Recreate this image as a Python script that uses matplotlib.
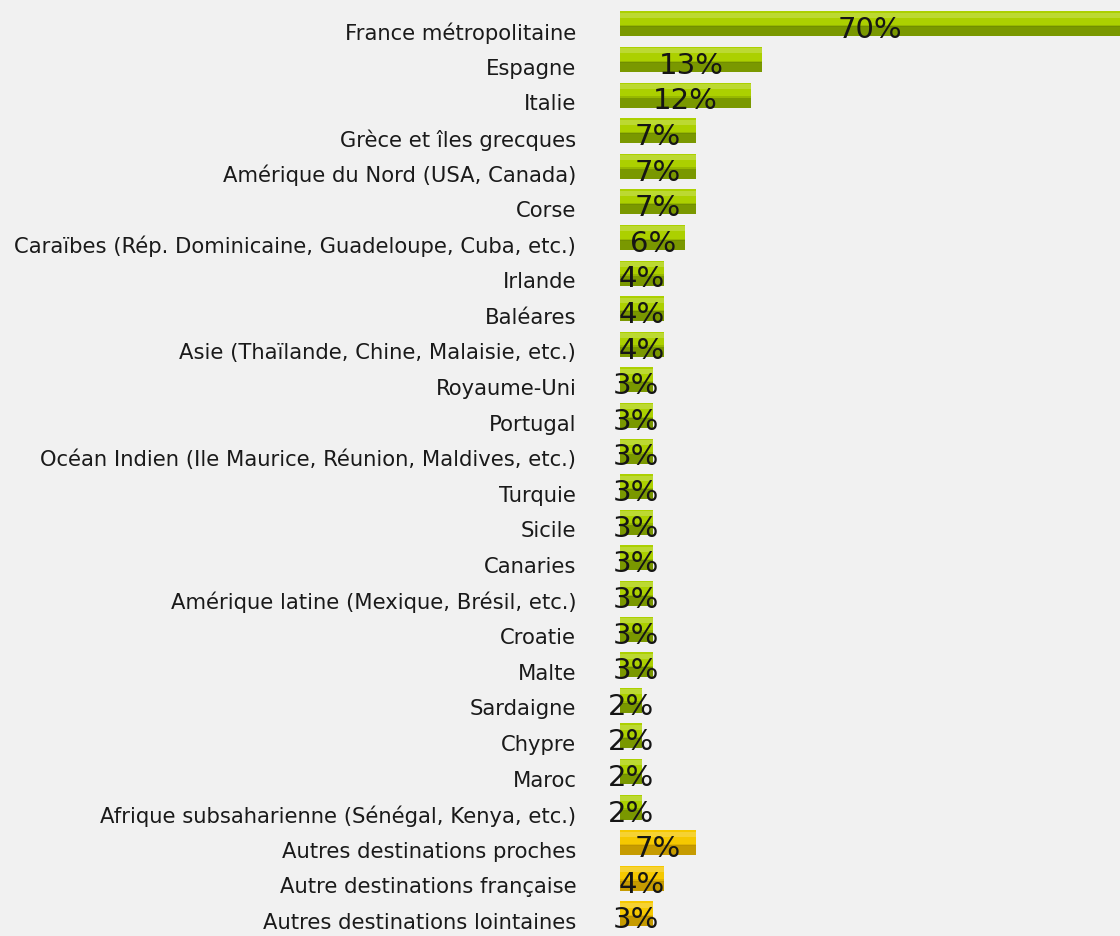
import numpy as np
import matplotlib.pyplot as plt

# destinations, part des répondants (%)
destinations = [
    "France métropolitaine", "Espagne", "Italie", "Grèce et îles grecques",
    "Amérique du Nord (USA, Canada)", "Corse",
    "Caraïbes (Rép. Dominicaine, Guadeloupe, Cuba, etc.)", "Irlande", "Baléares",
    "Asie (Thaïlande, Chine, Malaisie, etc.)", "Royaume-Uni", "Portugal",
    "Océan Indien (Ile Maurice, Réunion, Maldives, etc.)", "Turquie", "Sicile",
    "Canaries", "Amérique latine (Mexique, Brésil, etc.)", "Croatie", "Malte",
    "Sardaigne", "Chypre", "Maroc", "Afrique subsaharienne (Sénégal, Kenya, etc.)",
    "Autres destinations proches", "Autre destinations française",
    "Autres destinations lointaines",
]
values = [70, 13, 12, 7, 7, 7, 6, 4, 4, 4, 3, 3, 3, 3, 3, 3, 3, 3, 3,
          2, 2, 2, 2, 7, 4, 3]
autres = [False] * 23 + [True] * 3

green, green_dk = "#acd000", "#5a7400"
yellow, yellow_dk = "#f5c800", "#a87e00"

fig = plt.figure(figsize=(11.2, 9.36), dpi=100)
fig.patch.set_facecolor("#f1f1f1")
ax = fig.add_axes([0.5536, 0.0, 0.4464, 1.0])
ax.set_facecolor("#f1f1f1")

y = np.arange(len(values))
yb = y - 0.2  # les barres sont un peu au-dessus des libellés
cols = [yellow if a else green for a in autres]
cols_dk = [yellow_dk if a else green_dk for a in autres]

ax.barh(yb, values, height=0.7, color=cols, zorder=2)
# bas assombri pour l'effet de relief
ax.barh(yb + 0.21, values, height=0.28, color=cols_dk, alpha=0.6, zorder=3)
ax.barh(yb + 0.06, values, height=0.06, color=cols_dk, alpha=0.25, zorder=3)
ax.barh(yb - 0.24, values, height=0.14, color="white", alpha=0.2, zorder=3)

xmax = 45.9
ax.set_xlim(0, xmax)
ax.set_ylim(25.42, -0.87)

for yi, v in zip(y, values):
    ax.text(min(v, xmax) / 2, yi - 0.02, f"{v}%", ha="center", va="center",
            fontsize=21, color="#151515", zorder=4)

ax.set_yticks(y)
ax.set_yticklabels(destinations, fontsize=15.2, color="#1a1a1a")
ax.tick_params(axis="y", length=0, pad=31.5)
ax.set_xticks([])
for s in ax.spines.values():
    s.set_visible(False)

fig.savefig("out.png", dpi=100, facecolor=fig.get_facecolor())
